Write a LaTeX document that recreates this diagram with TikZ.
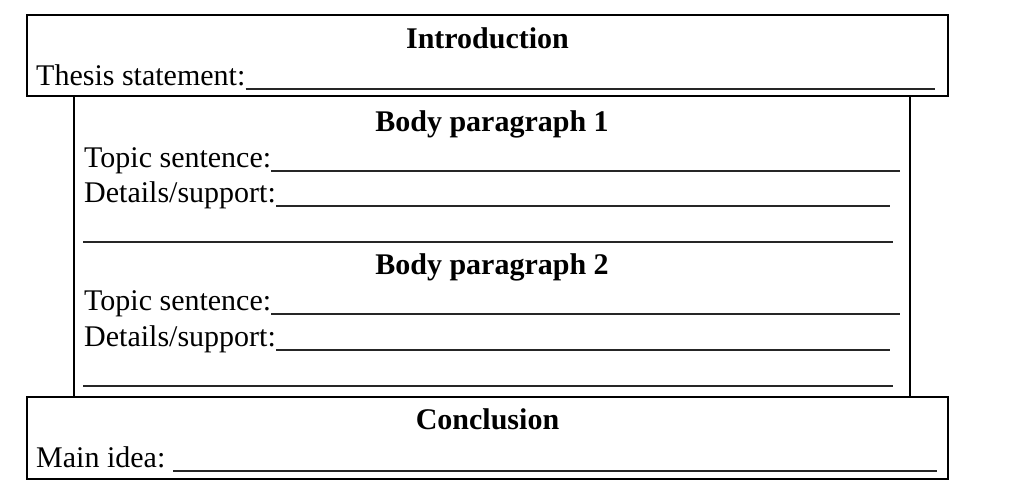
\documentclass[tikz,border=0pt]{standalone}
\usepackage{fontspec}
\setmainfont{Liberation Serif}
\begin{document}
\begin{tikzpicture}[x=1pt,y=-1pt,
  box/.style={draw=black,line width=1.3pt},
  txt/.style={inner sep=0pt,anchor=base west,font=\fontsize{30}{36}\selectfont},
  head/.style={inner sep=0pt,anchor=base,font=\fontsize{30}{36}\selectfont\bfseries},
  uline/.style={draw=black!85,line width=1.6pt}]
\useasboundingbox (0,0) rectangle (1025,496);
% boxes
\draw[box] (27,15) rectangle (948,96);
\draw[box] (74,96) rectangle (910,397);
\draw[box] (27,397) rectangle (948,479);
% introduction
\node[head] (intro) at (487.5,48) {Introduction};
\node[txt] (thesis) at (36,85) {Thesis statement:};
\coordinate (thesisE) at (935,89);
\draw[uline] ([yshift=-4pt]thesis.base east) -- (thesisE);
% body 1
\node[head] (b1) at (492,131) {Body paragraph 1};
\node[txt] (t1) at (84,167) {Topic sentence:};
\coordinate (t1E) at (900,171);
\draw[uline] ([yshift=-4pt]t1.base east) -- (t1E);
\node[txt] (d1) at (84,202) {Details/support:};
\coordinate (d1E) at (890,206);
\draw[uline] ([yshift=-4pt]d1.base east) -- (d1E);
\coordinate (l1S) at (83,242);
\coordinate (l1E) at (893,242);
\draw[uline] (l1S) -- (l1E);
% body 2
\node[head] (b2) at (492,274) {Body paragraph 2};
\node[txt] (t2) at (84,310) {Topic sentence:};
\coordinate (t2E) at (900,314);
\draw[uline] ([yshift=-4pt]t2.base east) -- (t2E);
\node[txt] (d2) at (84,346) {Details/support:};
\coordinate (d2E) at (890,350);
\draw[uline] ([yshift=-4pt]d2.base east) -- (d2E);
\coordinate (l2S) at (83,386);
\coordinate (l2E) at (893,386);
\draw[uline] (l2S) -- (l2E);
% conclusion
\node[head] (concl) at (487.5,429) {Conclusion};
\node[txt] (main) at (36,467) {Main idea: };
\coordinate (mainS) at (173,471);
\coordinate (mainE) at (937,471);
\draw[uline] (mainS) -- (mainE);
\end{tikzpicture}
\end{document}
